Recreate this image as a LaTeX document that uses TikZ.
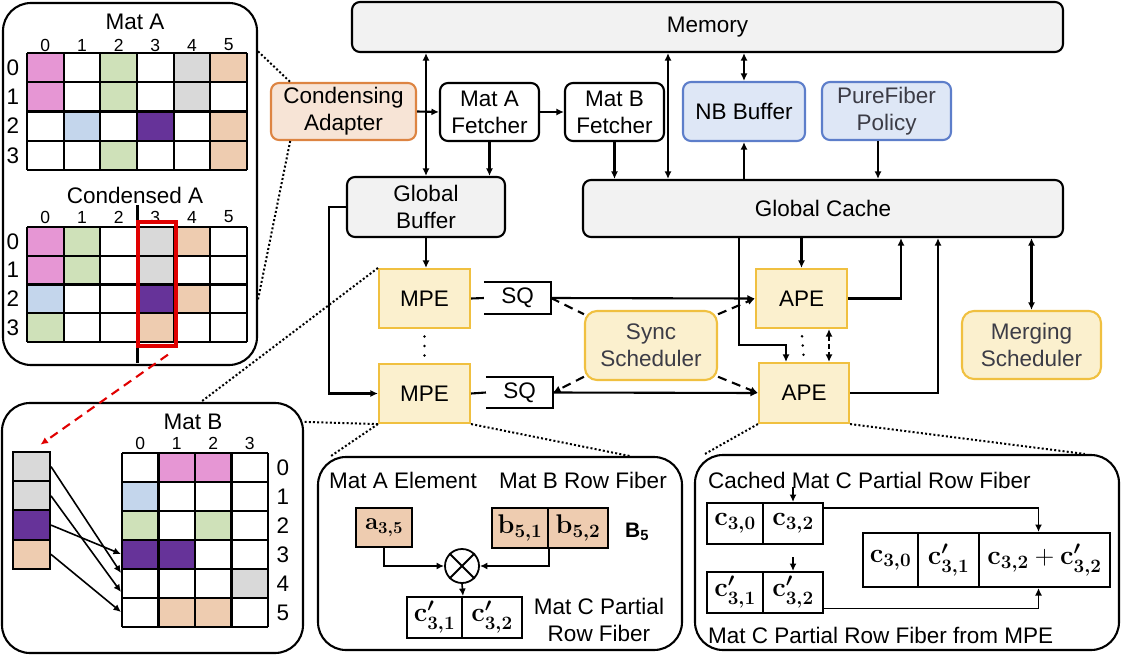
\RequirePackage{fix-cm}
\documentclass[tikz,border=0pt]{standalone}
\usepackage{amsmath}
\usepackage[no-math]{fontspec}
\setmainfont{Liberation Sans}
\usepackage{tikz}
\usetikzlibrary{arrows.meta,positioning,calc}

\definecolor{boxgray}{HTML}{F2F2F2}
\definecolor{adline}{HTML}{DD8442}
\definecolor{adfill}{HTML}{F7E4D6}
\definecolor{nbline}{HTML}{5D7ECA}
\definecolor{nbfill}{HTML}{DEE7F6}
\definecolor{softtxt}{HTML}{3C3C46}
\definecolor{peline}{HTML}{F0C040}
\definecolor{pefill}{HTML}{FBF0CE}
\definecolor{cpink}{HTML}{E696D4}
\definecolor{cgreen}{HTML}{CFE1B9}
\definecolor{cgray}{HTML}{D9D9D9}
\definecolor{cpeach}{HTML}{EECCB0}
\definecolor{cblue}{HTML}{C4D6EC}
\definecolor{cpurple}{HTML}{663399}
\definecolor{cred}{HTML}{E00000}

\newcommand{\fib}[2]{\boldsymbol{\mathrm{#1}_{\mathbf{#2}}}}
\newcommand{\fibp}[2]{\boldsymbol{\mathrm{#1}^{\prime}_{\mathbf{#2}}}}

\tikzset{
  blk/.style={draw, line width=2.1pt, rounded corners=8pt, fill=boxgray, align=center,
    inner sep=0pt, font=\fontsize{22.5}{27}\selectfont},
  pe/.style={draw=peline, fill=pefill, line width=2.1pt, inner sep=0pt, align=center,
    font=\fontsize{22.5}{27}\selectfont},
  sched/.style={pe, rounded corners=12pt, text=softtxt},
  panel/.style={draw, line width=2.1pt, rounded corners=28pt, inner sep=0pt},
  zoomln/.style={line width=2pt, dash pattern=on 2pt off 2.2pt},
  dashln/.style={line width=2.1pt, dash pattern=on 9pt off 6pt},
  cell/.style={draw, line width=2pt, inner sep=0pt, font=\fontsize{27}{27}\selectfont},
  lbl/.style={inner sep=0pt, font=\fontsize{22.5}{27}\selectfont},
  idx/.style={inner sep=0pt, font=\fontsize{17.5}{17.5}\selectfont},
}

\begin{document}
\begin{tikzpicture}[x=1pt,y=-1pt,>={Latex[length=7.5pt,width=7pt]},line width=2.1pt]
  \useasboundingbox (0,0) rectangle (1121,655);

  % blocks
  \node[blk, minimum width=711pt, minimum height=50pt] (mem) at (707.5,27) {Memory};
  \node[blk, draw=adline, fill=adfill, minimum width=145pt, minimum height=57pt] (cadapt) at (343.5,111.5) {Condensing\\Adapter};
  \node[blk, fill=white, minimum width=99pt, minimum height=58pt] (fetA) at (489.5,112) {Mat A\\Fetcher};
  \node[blk, fill=white, minimum width=99pt, minimum height=58pt] (fetB) at (614.5,112) {Mat B\\Fetcher};
  \node[blk, draw=nbline, fill=nbfill, minimum width=122pt, minimum height=59pt] (nbbuf) at (744,111.5) {NB Buffer};
  \node[blk, draw=nbline, fill=nbfill, text=softtxt, minimum width=129pt, minimum height=58pt] (pfpol) at (886.5,111) {PureFiber\\Policy};
  \node[blk, minimum width=158pt, minimum height=60pt] (gbuf) at (426,207) {Global\\Buffer};
  \node[blk, minimum width=480pt, minimum height=57pt] (gcache) at (823,208.5) {Global Cache};

  \node[pe, minimum width=91pt, minimum height=59pt] (mpe1) at (424.5,298.5) {MPE};
  \node[pe, minimum width=91pt, minimum height=59pt] (mpe2) at (424.5,393.5) {MPE};
  \node[pe, minimum width=91pt, minimum height=59pt] (ape1) at (801.5,298.5) {APE};
  \node[pe, minimum width=90pt, minimum height=60pt] (ape2) at (804,393) {APE};
  \node[lbl, minimum width=65pt, minimum height=30pt] (sq1) at (517.5,298) {SQ};
  \node[lbl, minimum width=65pt, minimum height=29pt] (sq2) at (519.5,392.5) {SQ};
  \draw (sq1.north west) -- (sq1.north east) -- (sq1.south east) -- (sq1.south west);
  \draw (sq2.north west) -- (sq2.north east) -- (sq2.south east) -- (sq2.south west);
  \node[sched, minimum width=132pt, minimum height=69pt] (sync) at (651,345.5) {Sync\\Scheduler};
  \node[sched, minimum width=139pt, minimum height=68pt] (merge) at (1031.5,345) {Merging\\Scheduler};

  \coordinate (tmem) at (668,0);
  \coordinate (tpol) at (878,0);
  \coordinate (tgb) at (329,0);
  \coordinate (tdown) at (739,345);
  \coordinate (tup1) at (901,0);
  \coordinate (tup2) at (938,0);
  \coordinate (tape) at (829,0);

  % data paths
  \draw[<->] (gbuf.north) -- (gbuf.north |- mem.south);
  \draw[->] (cadapt.east) -- (fetA.west);
  \draw[->] (fetA.east) -- (fetB.west);
  \draw[->] (fetA.south) -- (fetA.south |- gbuf.north);
  \draw[->] (fetB.south) -- (fetB.south |- gcache.north);
  \draw[<->] (tmem |- mem.south) -- (tmem |- gcache.north);
  \draw[<->] (nbbuf.north) -- (nbbuf.north |- mem.south);
  \draw[->] (nbbuf.south |- gcache.north) -- (nbbuf.south);
  \draw[->] (tpol |- pfpol.south) -- (tpol |- gcache.north);
  \draw[->] (gbuf.south) -- (gbuf.south |- mpe1.north);
  \draw[->] (gbuf.west) -- (gbuf.west -| tgb) |- (mpe2.west);
  \draw (mpe1.east) -- (sq1.west);
  \draw (mpe2.east) -- (sq2.west);
  \draw[->] (sq1.east) -- (ape1.west);
  \draw[->] (sq2.east) -- (ape2.west);
  \draw[dashln] (sq1.east) -- (sync.155);
  \draw[dashln,->] (sync.205) -- (sq2.east);
  \draw[dashln,->] (sync.25) -- (ape1.west);
  \draw[dashln,->] (sync.335) -- (ape2.west);
  \draw[->] (ape1.north |- gcache.south) -- (ape1.north);
  \draw[->] (tdown |- gcache.south) -- (tdown) -| ([xshift=-18pt]ape2.north);
  \draw[->] (ape1.east) -| (tup1 |- gcache.south);
  \draw[->] (ape2.east) -| (tup2 |- gcache.south);
  \draw[<->, dash pattern=on 5pt off 3pt] (tape |- ape1.south) -- (tape |- ape2.north);
  \draw[<->] (merge.north) -- (merge.north |- gcache.south);
  \foreach \f in {0.22,0.5,0.78} {
    \fill ($(mpe1.south)!\f!(mpe2.north)$) circle (1.4pt);
    \fill ($(ape1.south)!\f!(ape2.north)$) circle (1.4pt);
  }

  % zoom panels
  \node[panel, minimum width=254pt, minimum height=362pt] (pA) at (130,184) {};
  \node[panel, minimum width=301pt, minimum height=250pt] (pB) at (152.5,528) {};
  \node[panel, minimum width=364pt, minimum height=193pt] (pC) at (500,553.5) {};
  \node[panel, minimum width=424pt, minimum height=195pt] (pD) at (907,552.5) {};
  \draw[zoomln] (pA.46) -- (cadapt.151);
  \draw[zoomln] (pA.-42) -- (cadapt.209);
  \draw[zoomln] (mpe1.north west) -- (pB.69);
  \draw[zoomln] (mpe2.south west) -- (pB.35);
  \draw[zoomln] (mpe2.south west) -- (pC.150);
  \draw[zoomln] (mpe2.south east) -- (pC.37);
  \draw[zoomln] (ape2.south west) -- (pD.154);
  \draw[zoomln] (ape2.south east) -- (pD.29);

  % Mat A
  \node[lbl] (matA) at (135,22) {Mat A};
  \foreach \c in {0,...,5} \node[idx] at (45.3+\c*36.67,45) {\c};
  \foreach \r in {0,...,3} \node[lbl] at (13,67.6+\r*29.25) {\r};
  \foreach \r/\c/\k in {0/0/cpink,0/2/cgreen,0/4/cgray,0/5/cpeach,1/0/cpink,1/2/cgreen,1/4/cgray,
      2/1/cblue,2/3/cpurple,2/5/cpeach,3/2/cgreen,3/5/cpeach}
    \fill[\k] (27+\c*36.67,53+\r*29.25) rectangle ++(36.67,29.25);
  \foreach \c in {0,...,6} \draw (27+\c*36.67,53) -- ++(0,117);
  \foreach \r in {0,...,4} \draw (27,53+\r*29.25) -- ++(220,0);

  % Condensed A
  \node[lbl] (condA) at (135,195) {Condensed A};
  \foreach \c in {0,...,5} \node[idx] at (45.3+\c*36.67,217) {\c};
  \foreach \r in {0,...,3} \node[lbl] at (13,241.4+\r*28.75) {\r};
  \foreach \r/\c/\k in {0/0/cpink,0/1/cgreen,0/3/cgray,0/4/cpeach,1/0/cpink,1/1/cgreen,1/3/cgray,
      2/0/cblue,2/3/cpurple,2/4/cpeach,3/0/cgreen,3/3/cpeach}
    \fill[\k] (27+\c*36.67,227+\r*28.75) rectangle ++(36.67,28.75);
  \foreach \c in {0,...,6} \draw (27+\c*36.67,227) -- ++(0,115);
  \foreach \r in {0,...,4} \draw (27,227+\r*28.75) -- ++(220,0);
  \draw[line width=3pt] (137,205) -- (137,363);
  \node[draw=cred, line width=3.5pt, minimum width=38pt, minimum height=124pt, inner sep=0pt] (selcol) at (157,284) {};

  % picked column and Mat B
  \foreach \i/\k in {0/cgray,1/cgray,2/cpurple,3/cpeach}
    \node[draw, fill=\k, line width=2pt, inner sep=0pt, minimum width=37pt, minimum height=29.25pt] (v\i) at (31.5,466.6+\i*29.25) {};
  \draw[dashln, draw=cred, ->, shorten <=12pt, shorten >=11pt] (selcol.south east) -- (v0.north);

  \node[lbl] (matB) at (193,422) {Mat B};
  \foreach \c in {0,...,3} \node[idx] at (140.25+\c*36.5,443) {\c};
  \foreach \r in {0,...,5} \node[lbl] at (283,467.5+\r*29) {\r};
  \foreach \r/\c/\k in {0/1/cpink,0/2/cpink,1/0/cblue,2/0/cgreen,2/2/cgreen,3/0/cpurple,3/1/cpurple,
      4/3/cgray,5/1/cpeach,5/2/cpeach}
    \fill[\k] (122+\c*36.5,453+\r*29) rectangle ++(36.5,29);
  \foreach \c in {0,...,4} \draw (122+\c*36.5,453) -- ++(0,174);
  \foreach \r in {0,...,6} \draw (122,453+\r*29) -- ++(146,0);
  \coordinate (b3) at (121,554);
  \coordinate (b4a) at (121,573);
  \coordinate (b4b) at (121,592);
  \coordinate (b5) at (121,612);
  \draw[->, line width=1.6pt] (v0.east) -- (b4a);
  \draw[->, line width=1.6pt] (v1.east) -- (b4b);
  \draw[->, line width=1.6pt] (v2.east) -- (b3);
  \draw[->, line width=1.6pt] (v3.east) -- (b5);

  % MPE detail
  \node[lbl] (elA) at (403,480) {Mat A Element};
  \node[lbl] (fibB) at (583,480) {Mat B Row Fiber};
  \node[cell, fill=cpeach, minimum width=56pt, minimum height=39pt, font=\fontsize{24}{24}\selectfont] (a35) at (384,527.5) {$\fib{a}{3,5}$};
  \node[cell, fill=cpeach, minimum width=56pt, minimum height=40pt] (b51) at (520,528) {$\fib{b}{5,1}$};
  \node[cell, fill=cpeach, minimum width=60pt, minimum height=40pt] (b52) at (578,528) {$\fib{b}{5,2}$};
  \node[lbl, font=\fontsize{21}{21}\selectfont\bfseries] (bfive) at (637,532) {B\textsubscript{5}};
  \node[draw, circle, line width=1.8pt, minimum size=34pt, inner sep=0pt] (mul) at (462,566) {};
  \draw[line width=1.8pt] (mul.45) -- (mul.225) (mul.135) -- (mul.315);
  \draw[->, line width=1.6pt] (a35.south) |- (mul.west);
  \draw[->, line width=1.6pt] (b51.south east) |- (mul.east);
  \node[cell, minimum width=55pt, minimum height=41pt] (c31) at (434.5,617.5) {$\fibp{c}{3,1}$};
  \node[cell, minimum width=60pt, minimum height=41pt] (c32) at (492,617.5) {$\fibp{c}{3,2}$};
  \draw[->, line width=1.6pt] (mul.south) -- (c31.north east);
  \node[lbl, align=center] (fibC) at (599,620) {Mat C Partial\\Row Fiber};

  % APE detail
  \node[lbl, anchor=west] (cached) at (707,480) {Cached Mat C Partial Row Fiber};
  \node[cell, minimum width=56pt, minimum height=41pt] (ca30) at (735,523.5) {$\fib{c}{3,0}$};
  \node[cell, minimum width=60pt, minimum height=41pt] (ca32) at (793,523.5) {$\fib{c}{3,2}$};
  \node[cell, minimum width=56pt, minimum height=41pt] (cm31) at (735,592.5) {$\fibp{c}{3,1}$};
  \node[cell, minimum width=60pt, minimum height=41pt] (cm32) at (793,592.5) {$\fibp{c}{3,2}$};
  \node[cell, minimum width=55pt, minimum height=54pt] (r30) at (890.5,560) {$\fib{c}{3,0}$};
  \node[cell, minimum width=61pt, minimum height=54pt] (r31) at (948.5,560) {$\fibp{c}{3,1}$};
  \node[cell, minimum width=131pt, minimum height=54pt] (r32) at (1044.5,560) {$\fib{c}{3,2}+\fibp{c}{3,2}$};
  \draw[->] ([yshift=15pt]ca32.north) -- (ca32.north);
  \draw[->] ([yshift=14pt]cm32.north) -- (cm32.north);
  \draw[->, line width=1.6pt] (ca32.27) -| ([xshift=-6pt]r32.north);
  \draw[->, line width=1.6pt] (cm32.-27) -| ([xshift=-6pt]r32.south);
  \node[lbl, anchor=west] (fromMPE) at (707,635) {Mat C Partial Row Fiber from MPE};
\end{tikzpicture}
\end{document}
